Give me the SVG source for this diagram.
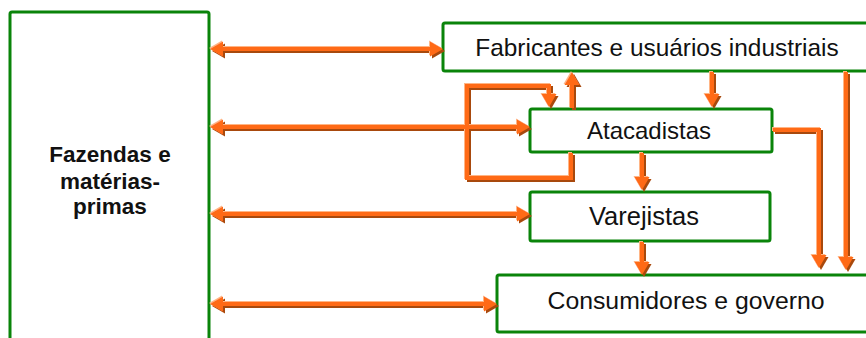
<svg xmlns="http://www.w3.org/2000/svg" width="866" height="338" viewBox="0 0 866 338">
  <style>
    .box { fill: #ffffff; stroke: #0a840a; stroke-width: 3; }
    .label { font-family: "Liberation Sans", Arial, sans-serif; font-size: 24px; fill: #111111; text-anchor: middle; }
    .bold { font-weight: bold; font-size: 22.5px; }
    .flow { fill: none; stroke: #ff6a14; stroke-width: 4; stroke-linejoin: miter; marker-end: url(#head); }
    .both { marker-start: url(#head); }
  </style>
  <defs>
    <!-- bevelled look: dark edge below/right, pale edge above/left -->
    <filter id="bevel" filterUnits="userSpaceOnUse" x="0" y="0" width="866" height="338">
      <feOffset in="SourceAlpha" dx="1.5" dy="1.5" result="so"/>
      <feFlood flood-color="#a8480c"/>
      <feComposite in2="so" operator="in" result="shadow"/>
      <feOffset in="SourceAlpha" dx="-1" dy="-1" result="ho"/>
      <feFlood flood-color="#ffb585"/>
      <feComposite in2="ho" operator="in" result="hi"/>
      <feMerge>
        <feMergeNode in="shadow"/>
        <feMergeNode in="hi"/>
        <feMergeNode in="SourceGraphic"/>
      </feMerge>
    </filter>
    <marker id="head" markerUnits="userSpaceOnUse" markerWidth="16" markerHeight="16" refX="5" refY="7.5" orient="auto-start-reverse" overflow="visible">
      <path d="M0,0 L13,7.5 L0,15 Z" fill="#ff6a14"/>
    </marker>
  </defs>

  <g id="fazendas">
    <rect class="box" x="10" y="12" width="199" height="345" rx="2"/>
    <text class="label bold" x="110" y="162">Fazendas e</text>
    <text class="label bold" x="110" y="189">matérias-</text>
    <text class="label bold" x="110" y="214">primas</text>
  </g>

  <g id="fabricantes">
    <rect class="box" x="443" y="23" width="440" height="48" rx="2"/>
    <text class="label" x="657" y="56" style="font-size:24.4px">Fabricantes e usuários industriais</text>
  </g>

  <g id="atacadistas">
    <rect class="box" x="530" y="109" width="242" height="43" rx="2"/>
    <text class="label" x="649" y="139">Atacadistas</text>
  </g>

  <g id="varejistas">
    <rect class="box" x="530" y="192" width="240" height="49" rx="2"/>
    <text class="label" x="644" y="225" style="font-size:25.5px">Varejistas</text>
  </g>

  <g id="consumidores">
    <rect class="box" x="497" y="275" width="390" height="57" rx="2"/>
    <text class="label" x="686" y="309" style="font-size:24.8px">Consumidores e governo</text>
  </g>

  <g id="connectors" filter="url(#bevel)">
    <!-- two-way links with the farm / raw-material box -->
    <path class="flow both" d="M218,49 H435"/>
    <path class="flow both" d="M218,127 H522"/>
    <path class="flow both" d="M218,214 H522"/>
    <path class="flow both" d="M218,304 H489"/>
    <!-- wholesalers loop back into themselves -->
    <path class="flow" d="M571,153 V178 H467 V86 H549 V99"/>
    <!-- between manufacturers and wholesalers -->
    <path class="flow" d="M572,108 V80"/>
    <path class="flow" d="M712,72 V99"/>
    <!-- down the distribution chain -->
    <path class="flow" d="M642,153 V182"/>
    <path class="flow" d="M642,242 V267"/>
    <path class="flow" d="M773,130 H819 V260"/>
    <path class="flow" d="M846,72 V262"/>
  </g>
</svg>
